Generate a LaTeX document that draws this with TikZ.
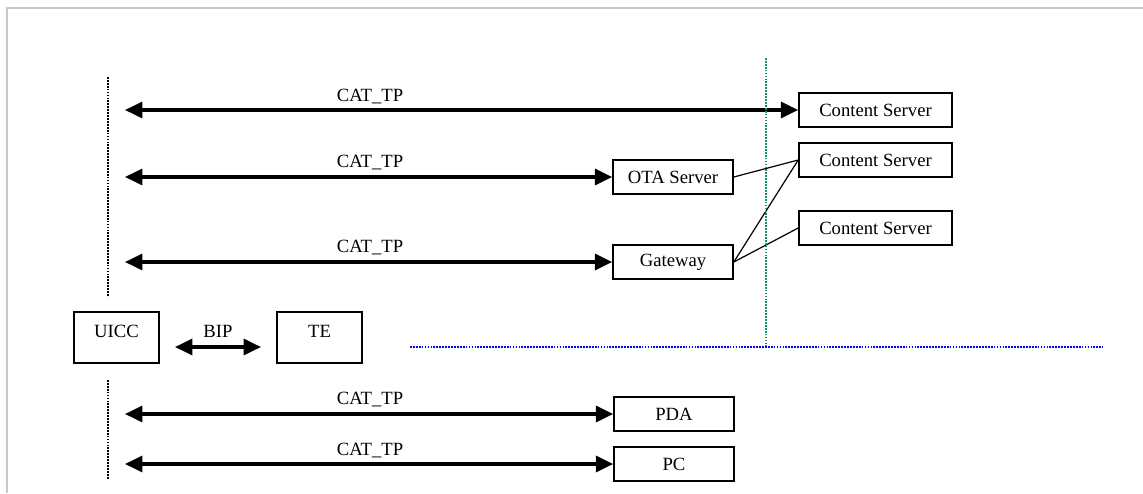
\documentclass[tikz,border=0pt]{standalone}
\usepackage{fontspec}
\setmainfont{Liberation Serif}
\usetikzlibrary{arrows.meta}

\begin{document}
\begin{tikzpicture}[x=0.75pt, y=-0.75pt,
		every node/.style={font=\fontsize{14}{16}\selectfont},
		box/.style={draw, line width=1.2pt, inner sep=0pt, minimum height=25.5pt},
		link/.style={line width=2.3pt, {Triangle[length=13pt,width=12pt]}-{Triangle[length=13pt,width=12pt]}},
		edge/.style={line width=0.9pt},
		lifeline/.style={line width=2.2pt, dash pattern=on 1.3pt off 0.9pt}]
		\useasboundingbox (0,0) rectangle (1143,493);
		% Frame
		\draw[black!22, line width=1.5pt] (7,493) -- (7,8) -- (1143,8);
		
		% Boxes
		\node[box, minimum width=114.75pt] (cs1) at (875.5,110) {Content Server};
		\node[box, minimum width=114.75pt] (cs2) at (875.5,160) {Content Server};
		\node[box, minimum width=114.75pt] (cs3) at (875.5,228) {Content Server};
		\node[box, minimum width=90pt] (ota) at (673,177) {OTA Server};
		\node[box, minimum width=90pt] (gw) at (673,262) {Gateway};
		\node[box, minimum width=90pt] (pda) at (674,414) {PDA};
		\node[box, minimum width=90pt] (pc) at (674,464) {PC};
		\node[box, minimum width=63.75pt, minimum height=38.25pt, text depth=9pt] (uicc) at (116.5,337.5) {UICC};
		\node[box, minimum width=63.75pt, minimum height=38.25pt, text depth=9pt] (te) at (319.5,337.5) {TE};
		
		% Free ends of the links
		\coordinate (l1) at (125,110);
		\coordinate (l2) at (125,177);
		\coordinate (l3) at (125,262);
		\coordinate (l4) at (125,414);
		\coordinate (l5) at (125,464);
		\coordinate (b1) at (175,347);
		\coordinate (b2) at (261,347);
		
		% CAT_TP links
		\draw[link] (l1) -- (cs1.west);
		\draw[link] (l2) -- (ota.west);
		\draw[link] (l3) -- (gw.west);
		\draw[link] (l4) -- (pda.west);
		\draw[link] (l5) -- (pc.west);
		\foreach \y in {97,163,248,400,451}
		\node[anchor=center] at (370,\y) {CAT\_TP};
		
		% BIP
		\draw[link] (b1) -- (b2);
		\node (bip) at (218,331) {BIP};
		
		% Servers behind
		\draw[edge] (ota.east) -- (cs2.west);
		\draw[edge] (gw.east) -- (cs2.west);
		\draw[edge] (gw.east) -- (cs3.west);
		
		% Dotted lines
		\coordinate (u1) at (108,77);
		\coordinate (u2) at (108,297);
		\coordinate (d1) at (108,380);
		\coordinate (d2) at (108,479);
		\draw[lifeline] (u1) -- (u2);
		\draw[lifeline] (d1) -- (d2);
		\coordinate (g1) at (766,58);
		\coordinate (g2) at (766,347);
		\coordinate (h1) at (410,347);
		\coordinate (h2) at (1103,347);
		\draw[lifeline, line width=1.8pt, color={rgb,255:red,20;green,150;blue,90}] (g1) -- (g2);
		\draw[lifeline, line width=1.8pt, color=blue] (h1) -- (h2);
	\end{tikzpicture}
\end{document}
